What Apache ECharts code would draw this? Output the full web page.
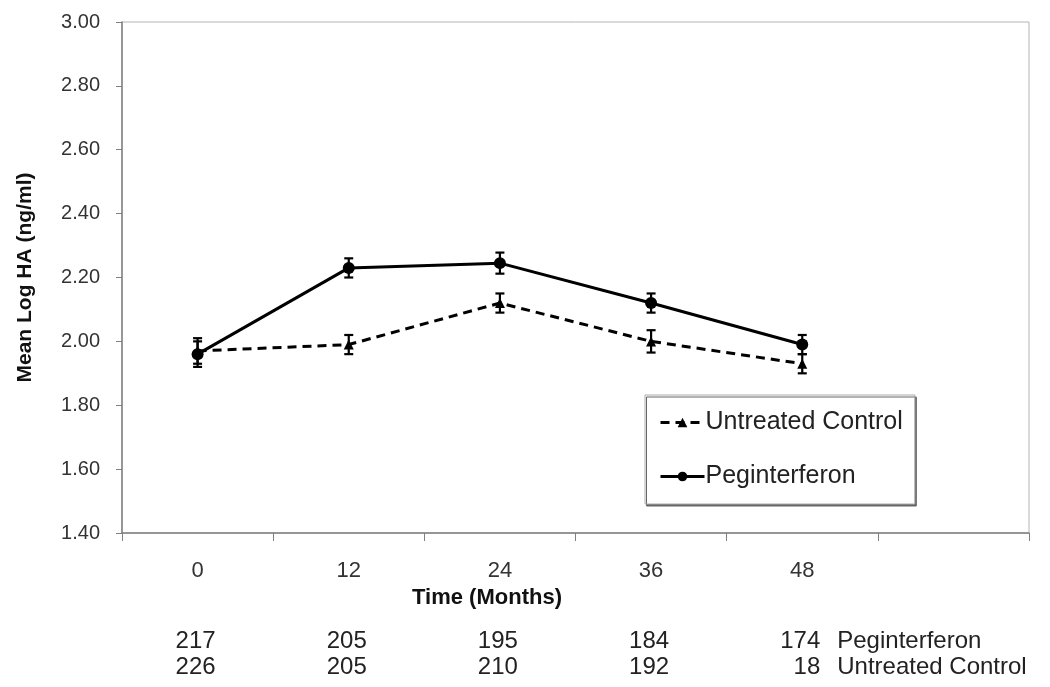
<!DOCTYPE html>
<html lang="en">
<head>
<meta charset="utf-8">
<title>Mean Log HA</title>
<script src="https://cdn.jsdelivr.net/npm/echarts@6/dist/echarts.min.js"></script>
<style>
  html, body { margin: 0; padding: 0; background: #fff; }
  #main { width: 1050px; height: 687px; }
</style>
</head>
<body>
<div id="main"></div>
<script type="text/javascript">
    // categories (months), the last slot is empty like in the original
    let months = ['0', '12', '24', '36', '48', ''];

    // mean log HA and error (+/-) per group
    let pegMean = [1.96, 2.23, 2.245, 2.12, 1.99];
    let pegErr = [0.04, 0.03, 0.033, 0.03, 0.03];
    let ctrlMean = [1.97, 1.99, 2.12, 2.00, 1.93];
    let ctrlErr = [0.04, 0.03, 0.03, 0.035, 0.03];

    // number of patients per time point
    let pegN = [217, 205, 195, 184, 174];
    let ctrlN = [226, 205, 210, 192, 18];

    let font = "'Liberation Sans', Arial, sans-serif";

    // error bar data: [index, low, high]
    function errData(mean, err){
        return mean.map((m, i) => [i, m - err[i], m + err[i]]);
    }

    function renderErr(params, api){
        let p1 = api.coord([api.value(0), api.value(2)]);
        let p2 = api.coord([api.value(0), api.value(1)]);
        let w = 4.5;
        let st = { stroke: '#000', lineWidth: 2.2 };
        return {
            type: 'group',
            children: [
                { type: 'line', shape: { x1: p1[0], y1: p1[1], x2: p2[0], y2: p2[1] }, style: st },
                { type: 'line', shape: { x1: p1[0] - w, y1: p1[1], x2: p1[0] + w, y2: p1[1] }, style: st },
                { type: 'line', shape: { x1: p2[0] - w, y1: p2[1], x2: p2[0] + w, y2: p2[1] }, style: st }
            ]
        };
    }

    let Chart = echarts.init(document.getElementById('main'));

    let option = {
        backgroundColor: '#fff',
        animation: false,
        textStyle: { fontFamily: font },
        grid: {
            left: 122, right: 21, top: 22, bottom: 154,
            show: true, borderColor: '#b4b4b4', borderWidth: 1
        },
        legend: {
            data: ['Untreated Control', 'Peginterferon'],
            orient: 'vertical',
            left: 645, top: 395,
            padding: [15, 12, 15, 14],
            itemGap: 29,
            itemWidth: 44,
            itemHeight: 12,
            lineStyle: { width: 3 },
            textStyle: { fontSize: 25, color: '#222', fontFamily: font, padding: [0, 0, 0, -4] },
            backgroundColor: '#fff',
            borderColor: '#aaa',
            borderWidth: 1,
            borderRadius: 0,
            shadowColor: '#666',
            shadowBlur: 0,
            shadowOffsetX: 1.5,
            shadowOffsetY: 2
        },
        xAxis: {
            type: 'category',
            data: months,
            boundaryGap: true,
            axisLine: { lineStyle: { color: '#808080', width: 1.5 } },
            axisTick: { show: true, length: 8, lineStyle: { color: '#808080' } },
            axisLabel: { fontSize: 22, color: '#333', margin: 27, fontFamily: font }
        },
        yAxis: {
            type: 'value',
            min: 1.4, max: 3.0, interval: 0.2,
            name: 'Mean Log HA (ng/ml)',
            nameLocation: 'middle',
            nameGap: 86,
            nameTextStyle: { fontSize: 21, fontWeight: 'bold', color: '#111', fontFamily: font },
            axisLine: { show: true, lineStyle: { color: '#808080', width: 1.5 } },
            axisTick: { show: true, length: 6, lineStyle: { color: '#808080' } },
            splitLine: { show: false },
            axisLabel: {
                fontSize: 20, color: '#333', margin: 22, fontFamily: font,
                formatter: (v) => v.toFixed(2)
            }
        },
        series: [
            {
                name: 'Untreated Control',
                type: 'line',
                data: ctrlMean,
                symbol: 'triangle',
                symbolSize: 10,
                itemStyle: { color: '#000' },
                lineStyle: { color: '#000', width: 3, type: [9, 6] },
                z: 3
            },
            {
                name: 'Peginterferon',
                type: 'line',
                data: pegMean,
                symbol: 'circle',
                symbolSize: 12,
                itemStyle: { color: '#000' },
                lineStyle: { color: '#000', width: 3 },
                z: 4
            },
            {
                name: 'ctrlErr',
                type: 'custom',
                renderItem: renderErr,
                data: errData(ctrlMean, ctrlErr),
                z: 5
            },
            {
                name: 'pegErr',
                type: 'custom',
                renderItem: renderErr,
                data: errData(pegMean, pegErr),
                z: 5
            }
        ]
    };

    Chart.setOption(option);

    // axis title and the patient count table under the chart
    let graphics = [{
        type: 'text',
        x: 487, y: 598,
        style: {
            text: 'Time (Months)', fill: '#111', font: 'bold 22px ' + font,
            textAlign: 'center', textVerticalAlign: 'middle'
        }
    }];

    let rows = [
        { y: 641, counts: pegN, label: 'Peginterferon' },
        { y: 667, counts: ctrlN, label: 'Untreated Control' }
    ];

    rows.forEach((row) => {
        row.counts.forEach((n, i) => {
            let px = Chart.convertToPixel({ xAxisIndex: 0 }, i);
            graphics.push({
                type: 'text',
                x: px + 18, y: row.y,
                style: {
                    text: String(n), fill: '#222', font: '24px ' + font,
                    textAlign: 'right', textVerticalAlign: 'middle'
                }
            });
        });
        let last = Chart.convertToPixel({ xAxisIndex: 0 }, row.counts.length - 1);
        graphics.push({
            type: 'text',
            x: last + 35, y: row.y,
            style: {
                text: row.label, fill: '#222', font: '24px ' + font,
                textAlign: 'left', textVerticalAlign: 'middle'
            }
        });
    });

    Chart.setOption({ graphic: graphics });
</script>
</body>
</html>
